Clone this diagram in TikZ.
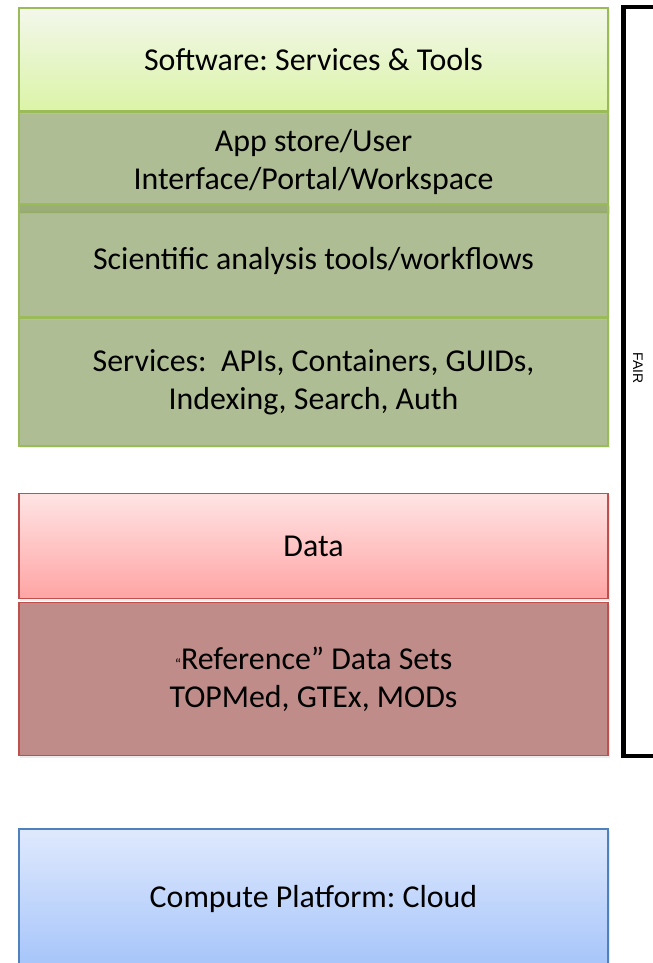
\documentclass[tikz,border=0pt]{standalone}
\usepackage{fontspec}
\setmainfont{Carlito}
\newfontfamily\arialfont{Liberation Sans}
\usetikzlibrary{positioning,shadows}
\definecolor{greenEdge}{RGB}{155,187,89}
\definecolor{oliveCore}{RGB}{150,170,110}
\definecolor{redEdge}{RGB}{192,80,77}
\definecolor{blueEdge}{RGB}{79,129,189}
\colorlet{SwTop}{greenEdge!12!white}
\definecolor{SwBottom}{RGB}{219,244,167}
\definecolor{DataTop}{RGB}{255,228,228}
\definecolor{DataBottom}{RGB}{255,164,164}
\definecolor{RefFill}{RGB}{192,140,137}
\definecolor{CloudTop}{RGB}{223,233,253}
\definecolor{CloudBottom}{RGB}{165,196,250}

\begin{document}
\frenchspacing
\begin{tikzpicture}[
    x=1bp,y=-1bp,
    layer/.style={draw,line width=1.6bp,minimum width=589bp,inner sep=0pt,
      align=center,font=\fontsize{32}{38}\selectfont,
      drop shadow={opacity=0.15,shadow xshift=1.5bp,shadow yshift=-2bp}},
    swbox/.style={layer,draw=greenEdge,top color=SwTop,bottom color=SwBottom},
    olivebox/.style={layer,draw=greenEdge,fill=oliveCore,fill opacity=0.7,text opacity=1},
    databox/.style={layer,draw=redEdge,top color=DataTop,bottom color=DataBottom},
    refbox/.style={layer,draw=redEdge,fill=RefFill},
    cloudbox/.style={layer,draw=blueEdge,top color=CloudTop,bottom color=CloudBottom},
    bracket/.style={line width=4.5bp,line join=miter},
    fairlabel/.style={font=\arialfont\fontsize{14}{16}\selectfont,inner sep=0pt}
  ]
  \useasboundingbox (0,0) rectangle (653,963);

  % software stack
  \node[swbox,minimum height=103bp] (software) at (313.5,59.5)
    {Software: Services \& Tools};
  \node[olivebox,minimum height=100bp] (appstore) at (313.5,162)
    {App store/User\\Interface/Portal/Workspace};
  \node[olivebox,minimum height=113bp] (sciTools) at (313.5,260.5)
    {Scientific analysis tools/workflows};
  \node[olivebox,minimum height=128bp] (services) at (313.5,382)
    {Services:\ \ APIs, Containers, GUIDs,\\Indexing, Search, Auth};

  % data
  \node[databox,minimum height=105bp] (data) at (313.5,546)
    {Data};
  \node[refbox,minimum height=153bp] (refData) at (313.5,679)
    {{\fontsize{15}{17}\selectfont``}Reference'' Data Sets\\TOPMed, GTEx, MODs};

  % compute
  \node[cloudbox,minimum height=140bp] (cloud) at (313.5,899)
    {Compute Platform: Cloud};

  % FAIR bracket
  \coordinate (fairTop) at (656,7);
  \coordinate (fairBot) at (656,756);
  \draw[bracket] (fairTop) -- ++(-32.5,0) |- (fairBot);
  \node[fairlabel,rotate=-90] (fair) at (638,368) {FAIR};
\end{tikzpicture}
\end{document}
